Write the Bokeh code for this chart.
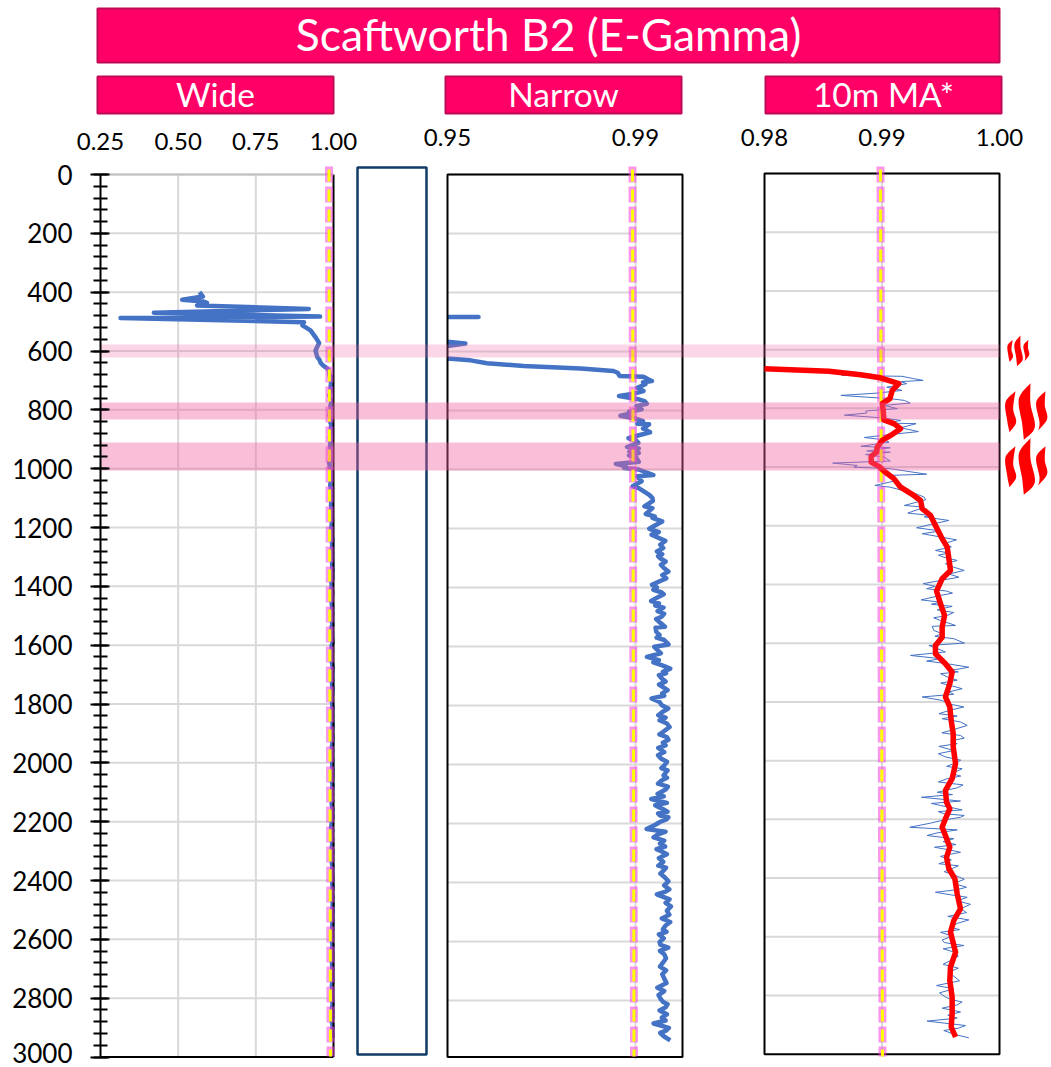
import numpy as np
from bokeh.plotting import figure
from bokeh.embed import file_html
from bokeh.resources import INLINE
from bokeh.models import Range1d, LinearAxis, FixedTicker, NumeralTickFormatter
from bokeh.core.properties import value

TITLE = "Scaftworth B2 (E-Gamma)"
PANEL_NAMES = ["Wide", "Narrow", "10m MA*"]
WIDE_TICKS = [0.25, 0.50, 0.75, 1.00]
NARROW_TICKS = [0.95, 0.99]
MA_TICKS = [0.98, 0.99, 1.00]
DEPTH_TICKS = list(range(0, 3001, 200))
DEPTH_MINOR = list(range(0, 3001, 40))

# Gamma ratio log: measured depth and value
depth = [400,415,426,432,436,445,457,470,483,488,502,513,530,553,573,598,621,630,640,649,658,666,672,683,686,
 694,700,704,711,723,734,743,751,757,762,768,777,785,796,804,811,818,827,836,845,847,861,874,884,894,902,910,
 924,929,940,944,952,961,974,981,989,995,1000,1019,1023,1040,1057,1063,1087,1097,1106,1125,1131,1151,1159,
 1164,1176,1190,1201,1212,1221,1242,1255,1278,1287,1301,1335,1369,1378,1391,1400,1416,1431,1446,1454,1468,
 1480,1499,1516,1533,1536,1550,1561,1578,1593,1601,1612,1635,1646,1663,1675,1686,1697,1708,1748,1759,1776,
 1788,1810,1833,1850,1861,1873,1890,1907,1926,1944,1958,1980,2003,2020,2037,2054,2085,2100,2117,2130,2145,
 2160,2173,2185,2205,2219,2228,2247,2258,2287,2304,2318,2343,2357,2383,2423,2440,2457,2481,2496,2522,2534,
 2559,2576,2602,2621,2643,2672,2711,2757,2768,2796,2813,2834,2847,2878,2893,2910,2935]
gamma = [.5687,.5796,.5130,.5822,.5927,.5608,.9205,.4217,.9566,.3144,.9049,.9000,.9260,.9420,.9538,.9420,.9480,
 .9549,.9584,.9662,.9783,.9853,.9862,.9866,.9917,.9927,.9935,.9916,.9921,.9904,.9917,.9896,.9865,.9887,.9907,
 .9919,.9924,.9902,.9913,.9886,.9887,.9868,.9899,.9916,.9904,.9929,.9916,.9931,.9907,.9885,.9902,.9906,.9882,
 .9907,.9887,.9907,.9886,.9902,.9907,.9858,.9879,.9876,.9907,.9938,.9904,.9913,.9894,.9907,.9930,.9936,.9937,
 .9919,.9936,.9922,.9941,.9936,.99569,.99413,.99294,.99498,.99342,.99634,.99526,.99455,.99569,.99526,.99611,
 .99654,.99526,.99350,.99455,.99549,.99498,.99333,.99498,.99597,.99470,.99555,.99498,.99626,.99427,.99441,
 .99512,.99611,.99702,.99399,.99470,.99243,.99498,.99555,.99739,.99583,.99498,.99555,.99682,.99569,.99342,
 .99512,.99697,.99484,.99512,.99668,.99725,.99583,.99668,.99583,.99484,.99611,.99540,.99611,.99682,.99597,
 .99555,.99640,.99470,.99336,.99668,.99498,.99682,.99526,.99668,.99413,.99237,.99640,.99384,.99611,.99447,
 .99668,.99498,.99484,.99611,.99626,.99719,.99455,.99725,.99753,.99668,.99560,.99739,.99583,.99498,.99512,
 .99697,.99611,.99583,.99569,.99464,.99611,.99540,.99682,.99512,.99668,.99384,.99711,.99526,.99739]

# finer wiggles of the same log below 1250 m
depth_fine = [1266,1294,1312,1323,1346,1358,1408,1423,1461,1489,1507,1524,1570,1623,1654,1691,1719,1729,1739,1767,
 1799,1821,1841,1898,1916,1935,1969,1991,2012,2045,2065,2075,2108,2138,2152,2166,2179,2195,2238,2268,2278,2295,
 2311,2330,2350,2370,2396,2410,2431,2449,2469,2509,2546,2567,2589,2611,2632,2657,2685,2698,2725,2741,2782,2805,
 2823,2858,2868,2902,2922]
gamma_fine = [.99590,.99480,.99640,.99540,.99700,.99570,.99380,.99600,.99420,.99610,.99440,.99560,.99450,.99540,
 .99380,.99650,.99640,.99500,.99600,.99610,.99560,.99580,.99640,.99510,.99700,.99640,.99480,.99670,.99550,.99670,
 .99480,.99690,.99600,.99420,.99590,.99480,.99700,.99520,.99470,.99520,.99630,.99560,.99580,.99590,.99650,.99530,
 .99700,.99610,.99640,.99590,.99640,.99720,.99640,.99660,.99600,.99530,.99520,.99650,.99520,.99650,.99610,.99660,
 .99490,.99590,.99640,.99560,.99640,.99650,.99610]
log = sorted(zip(depth + depth_fine, gamma + gamma_fine))
depth = [d for d, _ in log]
gamma = [g for _, g in log]

# 10 m moving average
ma_depth = [657,669,681,691,711,734,762,779,802,834,847,864,887,904,927,944,958,978,992,1008,1034,1063,1091,1108,
 1136,1159,1193,1238,1267,1306,1346,1374,1416,1459,1499,1539,1573,1601,1629,1663,1691,1731,1776,1810,1856,1901,
 1946,2003,2054,2094,2134,2156,2190,2219,2247,2287,2321,2360,2394,2445,2496,2536,2576,2644,2694,2740,2796,2853,
 2898,2932]
ma_gamma = [.9780,.98548,.98817,.98987,.99143,.99087,.99067,.99002,.99010,.99016,.99101,.99158,.99073,.99002,.98959,
 .98953,.98908,.98908,.98973,.99016,.99101,.99158,.99271,.99328,.99342,.99413,.99455,.99512,.99555,.99569,.99583,
 .99512,.99464,.99498,.99532,.99512,.99512,.99455,.99455,.99540,.99597,.99577,.99540,.99577,.99589,.99606,.99606,
 .99626,.99597,.99540,.99549,.99577,.99540,.99512,.99540,.99577,.99549,.99569,.99620,.99640,.99668,.99611,.99583,
 .99626,.99583,.99577,.99597,.99597,.99589,.99626]

# shaded depth intervals: (top, base, opacity)
band_top = [578, 775, 911]
band_base = [622, 833, 1006]
band_alpha = [0.26, 0.40, 0.40]

W, H = 1051, 1067
PINK, PINK_EDGE = "#ff0066", "#c00a55"
BLUE, RED = "#4472c4", "#ff0000"
GRID = "#d9d9d9"
FONT = value("Lato")

def span(p0, p1, a, b, lo, hi):
    k = (b - a) / (p1 - p0)
    return Range1d(a + (lo - p0) * k, a + (hi - p0) * k)

p = figure(width=W, height=H, output_backend="svg", toolbar_location=None,
           x_range=Range1d(0, W), y_range=Range1d(H, 0),
           min_border=0, outline_line_color=None, background_fill_color="white",
           x_axis_type=None, y_axis_type=None)
p.grid.visible = False

p.extra_x_ranges = {"wide": span(100, 333, .25, 1.0, 0, W),
                    "narrow": span(447, 682, .95, 1.0, 0, W),
                    "ma": span(764, 999, .98, 1.0, 0, W)}
p.extra_y_ranges = {"depth": span(1056.5, 174, 3000, 0, H, 0),
                    "depth_n": span(1059, 174, 3000, 0, H, 0),
                    "depth_ma": span(1053.7, 173, 3000, 0, H, 0)}

# header bars
bar_l = [97, 97, 445, 765]
bar_r = [999, 333, 681, 1001]
bar_t = [8, 76, 76, 76]
bar_b = [62, 113, 113, 113]
p.quad(left=bar_l, right=bar_r, top=bar_t, bottom=bar_b, fill_color=PINK,
       line_color=PINK_EDGE, line_width=2)
p.text(x=[(bar_l[0] + bar_r[0]) / 2], y=[33], text=[TITLE], text_font=FONT, text_font_size="44.4px",
       text_color="white", text_align="center", text_baseline="middle")
p.text(x=[(l + r) / 2 for l, r in zip(bar_l[1:], bar_r[1:])], y=[93, 93, 93], text=PANEL_NAMES,
       text_font=FONT, text_font_size="33.5px", text_color="white", text_align="center", text_baseline="middle")

# empty column
p.quad(left=[357], right=[426], top=[167], bottom=[1054], fill_color=None, line_color="#0f3b66", line_width=2.5)

def grid(xticks, xname, yname, xa, xb, db=3000):
    p.segment(x0=xticks, x1=xticks, y0=[0] * len(xticks), y1=[db] * len(xticks), x_range_name=xname,
              y_range_name=yname, line_color=GRID, line_width=2)
    ds = DEPTH_TICKS[:-1]
    p.segment(x0=[xa] * len(ds), x1=[xb] * len(ds), y0=ds, y1=ds, x_range_name=xname,
              y_range_name=yname, line_color=GRID, line_width=2)

grid(WIDE_TICKS[1:3], "wide", "depth", .25, 1.0)
grid(NARROW_TICKS[1:], "narrow", "depth_n", .95, 1.0)
grid(MA_TICKS[1:2], "ma", "depth_ma", .98, 1.0)

def clip(v, d, lo):
    """Break the trace where it leaves the panel on its low side."""
    xs, ys = [], []
    for i in range(len(v)):
        if i and (v[i - 1] < lo) != (v[i] < lo):
            t = (lo - v[i - 1]) / (v[i] - v[i - 1])
            xs.append(lo); ys.append(d[i - 1] + t * (d[i] - d[i - 1]))
            if v[i] < lo:
                xs.append(np.nan); ys.append(np.nan)
        if v[i] >= lo:
            xs.append(v[i]); ys.append(d[i])
    return xs, ys

p.line(gamma, depth, x_range_name="wide", y_range_name="depth", line_color=BLUE, line_width=4.5, line_join="round")
nx, ny = clip(gamma, depth, .95)
p.line(nx, ny, x_range_name="narrow", y_range_name="depth_n", line_color=BLUE, line_width=4.5, line_join="round")
mx, my = clip(gamma, depth, .98)
p.line(mx, my, x_range_name="ma", y_range_name="depth", line_color=BLUE, line_width=1)

# panel frames
p.segment(x0=[1.0, .25], x1=[1.0, 1.0], y0=[0, 3000], y1=[3000, 3000], x_range_name="wide",
          y_range_name="depth", line_color="black", line_width=2)
p.segment(x0=[.25], x1=[1.0], y0=[0], y1=[0], x_range_name="wide", y_range_name="depth",
          line_color="#bfbfbf", line_width=2)
p.quad(left=[.95], right=[1.0], top=[0], bottom=[3000], x_range_name="narrow", y_range_name="depth",
       fill_color=None, line_color="black", line_width=2)
p.quad(left=[.98], right=[1.0], top=[0], bottom=[3000], x_range_name="ma", y_range_name="depth_ma",
       fill_color=None, line_color="black", line_width=2)

# 0.99 picks
for x0, x1 in [(328.5, 330), (632, 633.5), (880, 882)]:
    p.line([x0, x1], [166, 1056], line_color="#f540e0", line_alpha=0.55, line_width=8, line_dash="16 4")
    p.line([x0, x1], [166, 1056], line_color="#ffff00", line_width=3, line_dash="12 8", line_dash_offset=-3)

mx, my = clip(ma_gamma, ma_depth, .98)
p.line(mx, my, x_range_name="ma", y_range_name="depth", line_color=RED, line_width=5.5, line_join="round")

p.hbar(y=[(a + b) / 2 for a, b in zip(band_top, band_base)], height=[b - a for a, b in zip(band_top, band_base)],
       left=[100] * 3, right=[999] * 3, y_range_name="depth", fill_color="#ef5f9f",
       fill_alpha=band_alpha, line_color=None)

# axes: the deepest label sits on the page's lower edge, so it is placed as its own text
ax = LinearAxis(y_range_name="depth", fixed_location=100, bounds=(0, 3000),
                ticker=FixedTicker(ticks=DEPTH_TICKS, minor_ticks=DEPTH_MINOR),
                major_label_overrides={DEPTH_TICKS[-1]: " "})
ax.axis_line_color = "black"; ax.axis_line_width = 2
ax.major_tick_line_color = "black"; ax.major_tick_line_width = 2
ax.major_tick_in = 9; ax.major_tick_out = 10
ax.minor_tick_line_color = "black"; ax.minor_tick_line_width = 2
ax.minor_tick_in = 7; ax.minor_tick_out = 7
ax.major_label_text_font = "Lato"; ax.major_label_text_font_size = "26px"
ax.major_label_text_color = "black"; ax.major_label_standoff = 18
p.add_layout(ax, "left")
p.text(x=[72], y=[1052], text=[str(DEPTH_TICKS[-1])], text_font=FONT, text_font_size="26px",
       text_color="black", text_align="right", text_baseline="middle")

for name, ticks, loc in [("wide", WIDE_TICKS, 149), ("narrow", NARROW_TICKS, 145), ("ma", MA_TICKS, 145)]:
    a = LinearAxis(x_range_name=name, fixed_location=loc, ticker=FixedTicker(ticks=ticks),
                   formatter=NumeralTickFormatter(format="0.00"))
    a.axis_line_color = None; a.major_tick_line_color = None; a.minor_tick_line_color = None
    a.major_tick_in = 0; a.major_tick_out = 0
    a.major_label_text_font = "Lato"; a.major_label_text_font_size = "24px"
    a.major_label_text_color = "black"; a.major_label_standoff = 0
    p.add_layout(a, "above")

# heat symbols: each outline is (left edge, right edge) from top tip to bottom tip
FLAMES = [
    ([(60, 182), (30, 215), (35, 270), (42, 305)], [(60, 182), (53, 235), (62, 275), (42, 305)]),
    ([(105, 158), (70, 205), (80, 280), (85, 328)], [(105, 158), (105, 220), (118, 290), (85, 328)]),
    ([(150, 182), (122, 215), (132, 275), (128, 300)], [(150, 182), (148, 225), (155, 265), (128, 300)]),
]
def smooth(pts):
    P = np.array([pts[0]] + pts + [pts[-1]], float)
    out = []
    for i in range(1, len(P) - 2):
        for t in np.linspace(0, 1, 8, endpoint=False):
            out.append(.5 * (2 * P[i] + (P[i + 1] - P[i - 1]) * t + (2 * P[i - 1] - 5 * P[i] + 4 * P[i + 1] - P[i + 2]) * t ** 2
                             + (3 * P[i] - P[i - 1] - 3 * P[i + 1] + P[i + 2]) * t ** 3))
    out.append(P[-2])
    return np.array(out)
fx, fy = [], []
for ox, oy, sx, sy in [(1001.8, 335 - 158 * .541 / 3, .52 / 3, .541 / 3),
                       (995, 330, 1 / 3, 1 / 3), (995, 385, 1 / 3, 1 / 3)]:
    for left, right in FLAMES:
        o = np.vstack([smooth(left), smooth(right)[::-1]])
        fx.append(list(ox + o[:, 0] * sx)); fy.append(list(oy + o[:, 1] * sy))
p.patches(fx, fy, fill_color=RED, line_color=None)

open("out.html", "w").write(file_html(p, INLINE))
